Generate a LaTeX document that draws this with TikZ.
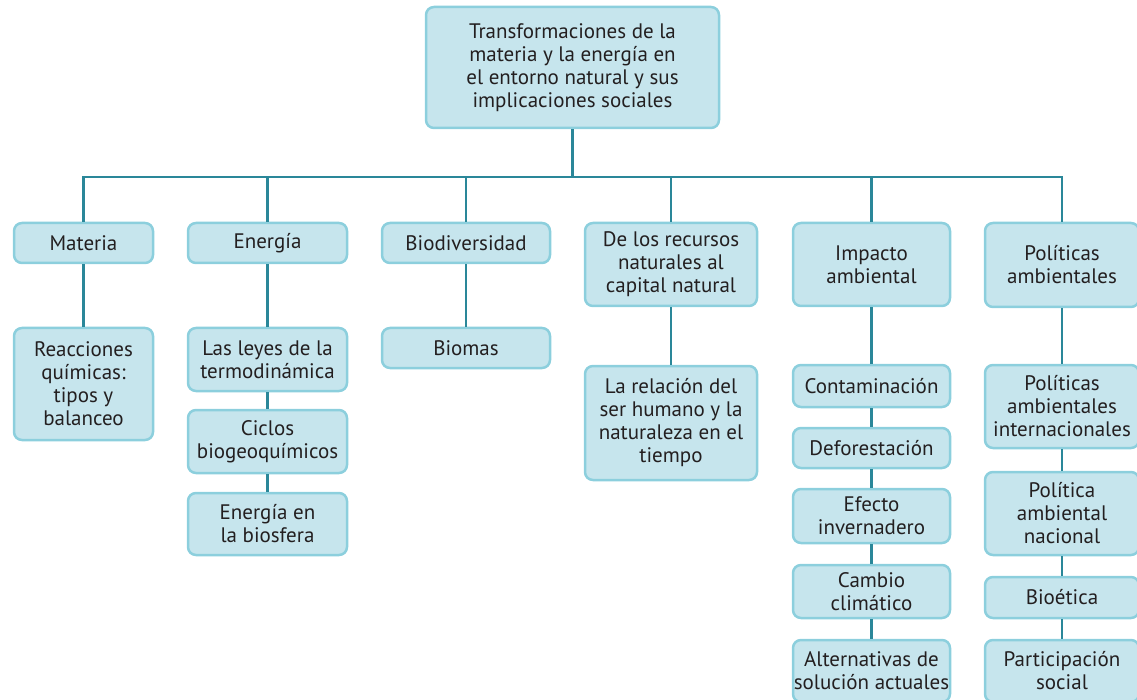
\documentclass[tikz,border=0pt]{standalone}
\usepackage{fontspec}
\setmainfont{PT Sans}
\usepackage{xcolor}
\definecolor{borde}{HTML}{8CCFDD}
\definecolor{relleno}{HTML}{C6E5ED}
\definecolor{lteal}{HTML}{2A8799}
\definecolor{texto}{HTML}{231F20}
\usepackage{tikz}
\usetikzlibrary{calc}
\usetikzlibrary{positioning}

\begin{document}
\begin{tikzpicture}[x=1pt,y=-1pt,
  caja/.style={draw=borde, fill=relleno, line width=2.5pt, rounded corners=8pt,
    inner sep=0pt, align=center, text=texto, font=\fontsize{21}{23}\selectfont},
  linea/.style={draw=lteal, line width=2.5pt}]
\useasboundingbox (0,0) rectangle (1137,700);
\node[caja, minimum width=293pt, minimum height=121pt] (top) at (572.5,67.5)
  {Transformaciones de la\\materia y la energía en\\el entorno natural y sus\\implicaciones sociales};
% primer nivel
\node[caja, minimum width=139pt, minimum height=40pt] (mat) at (83.5,243) {Materia};
\node[caja, minimum width=159pt, minimum height=40pt] (ene) at (267.5,243) {Energía};
\node[caja, minimum width=168pt, minimum height=40pt] (bio) at (466,243) {Biodiversidad};
\node[caja, minimum width=172pt, minimum height=83pt] (rec) at (671,264.5) {De los recursos\\naturales al\\capital natural};
\node[caja, minimum width=157pt, minimum height=83pt] (imp) at (871.5,264.5) {Impacto\\ambiental};
\node[caja, minimum width=154pt, minimum height=84pt] (pol) at (1062,265) {Políticas\\ambientales};
% segundo nivel
\node[caja, minimum width=139pt, minimum height=112pt] (reac) at (83.5,384) {Reacciones\\químicas:\\tipos y\\balanceo};
\node[caja, minimum width=159pt, minimum height=63pt] (leyes) at (267.5,359.5) {Las leyes de la\\termodinámica};
\node[caja, minimum width=159pt, minimum height=63pt] (ciclos) at (267.5,441.5) {Ciclos\\biogeoquímicos};
\node[caja, minimum width=159pt, minimum height=62pt] (enbio) at (267.5,524) {Energía en\\la biosfera};
\node[caja, minimum width=168pt, minimum height=40pt] (biomas) at (466,348) {Biomas};
\node[caja, minimum width=172pt, minimum height=114pt] (rel) at (671,423) {La relación del\\ser humano y la\\naturaleza en el\\tiempo};
\node[caja, minimum width=157pt, minimum height=42pt] (cont) at (871.5,386) {Contaminación};
\node[caja, minimum width=157pt, minimum height=40pt] (defo) at (871.5,448) {Deforestación};
\node[caja, minimum width=157pt, minimum height=54pt] (efec) at (871.5,516) {Efecto\\invernadero};
\node[caja, minimum width=157pt, minimum height=53pt] (camb) at (871.5,591.5) {Cambio\\climático};
\node[caja, minimum width=157pt, minimum height=62pt] (alt) at (871.5,671) {Alternativas de\\solución actuales};
\node[caja, minimum width=154pt, minimum height=83pt] (polint) at (1062,406.5) {Políticas\\ambientales\\internacionales};
\node[caja, minimum width=154pt, minimum height=83pt] (polnac) at (1062,513.5) {Política\\ambiental\\nacional};
\node[caja, minimum width=154pt, minimum height=41pt] (bioet) at (1062,597.5) {Bioética};
\node[caja, minimum width=154pt, minimum height=62pt] (part) at (1062,671) {Participación\\social};
% conectores
\coordinate (bus) at (0,177);
\draw[linea] (top.south) -- (top.south |- bus);
\draw[linea] (mat.north) -- (mat.north |- bus) -- (pol.north |- bus) -- (pol.north);
\foreach \n in {ene,bio,rec,imp}
  \draw[linea] (\n.north) -- (\n.north |- bus);
\foreach \a/\b in {mat/reac,ene/leyes,leyes/ciclos,ciclos/enbio,bio/biomas,rec/rel,
  imp/cont,cont/defo,defo/efec,efec/camb,camb/alt,
  pol/polint,polint/polnac,polnac/bioet,bioet/part}
  \draw[linea] (\a.south) -- (\b.north);
\end{tikzpicture}
\end{document}
